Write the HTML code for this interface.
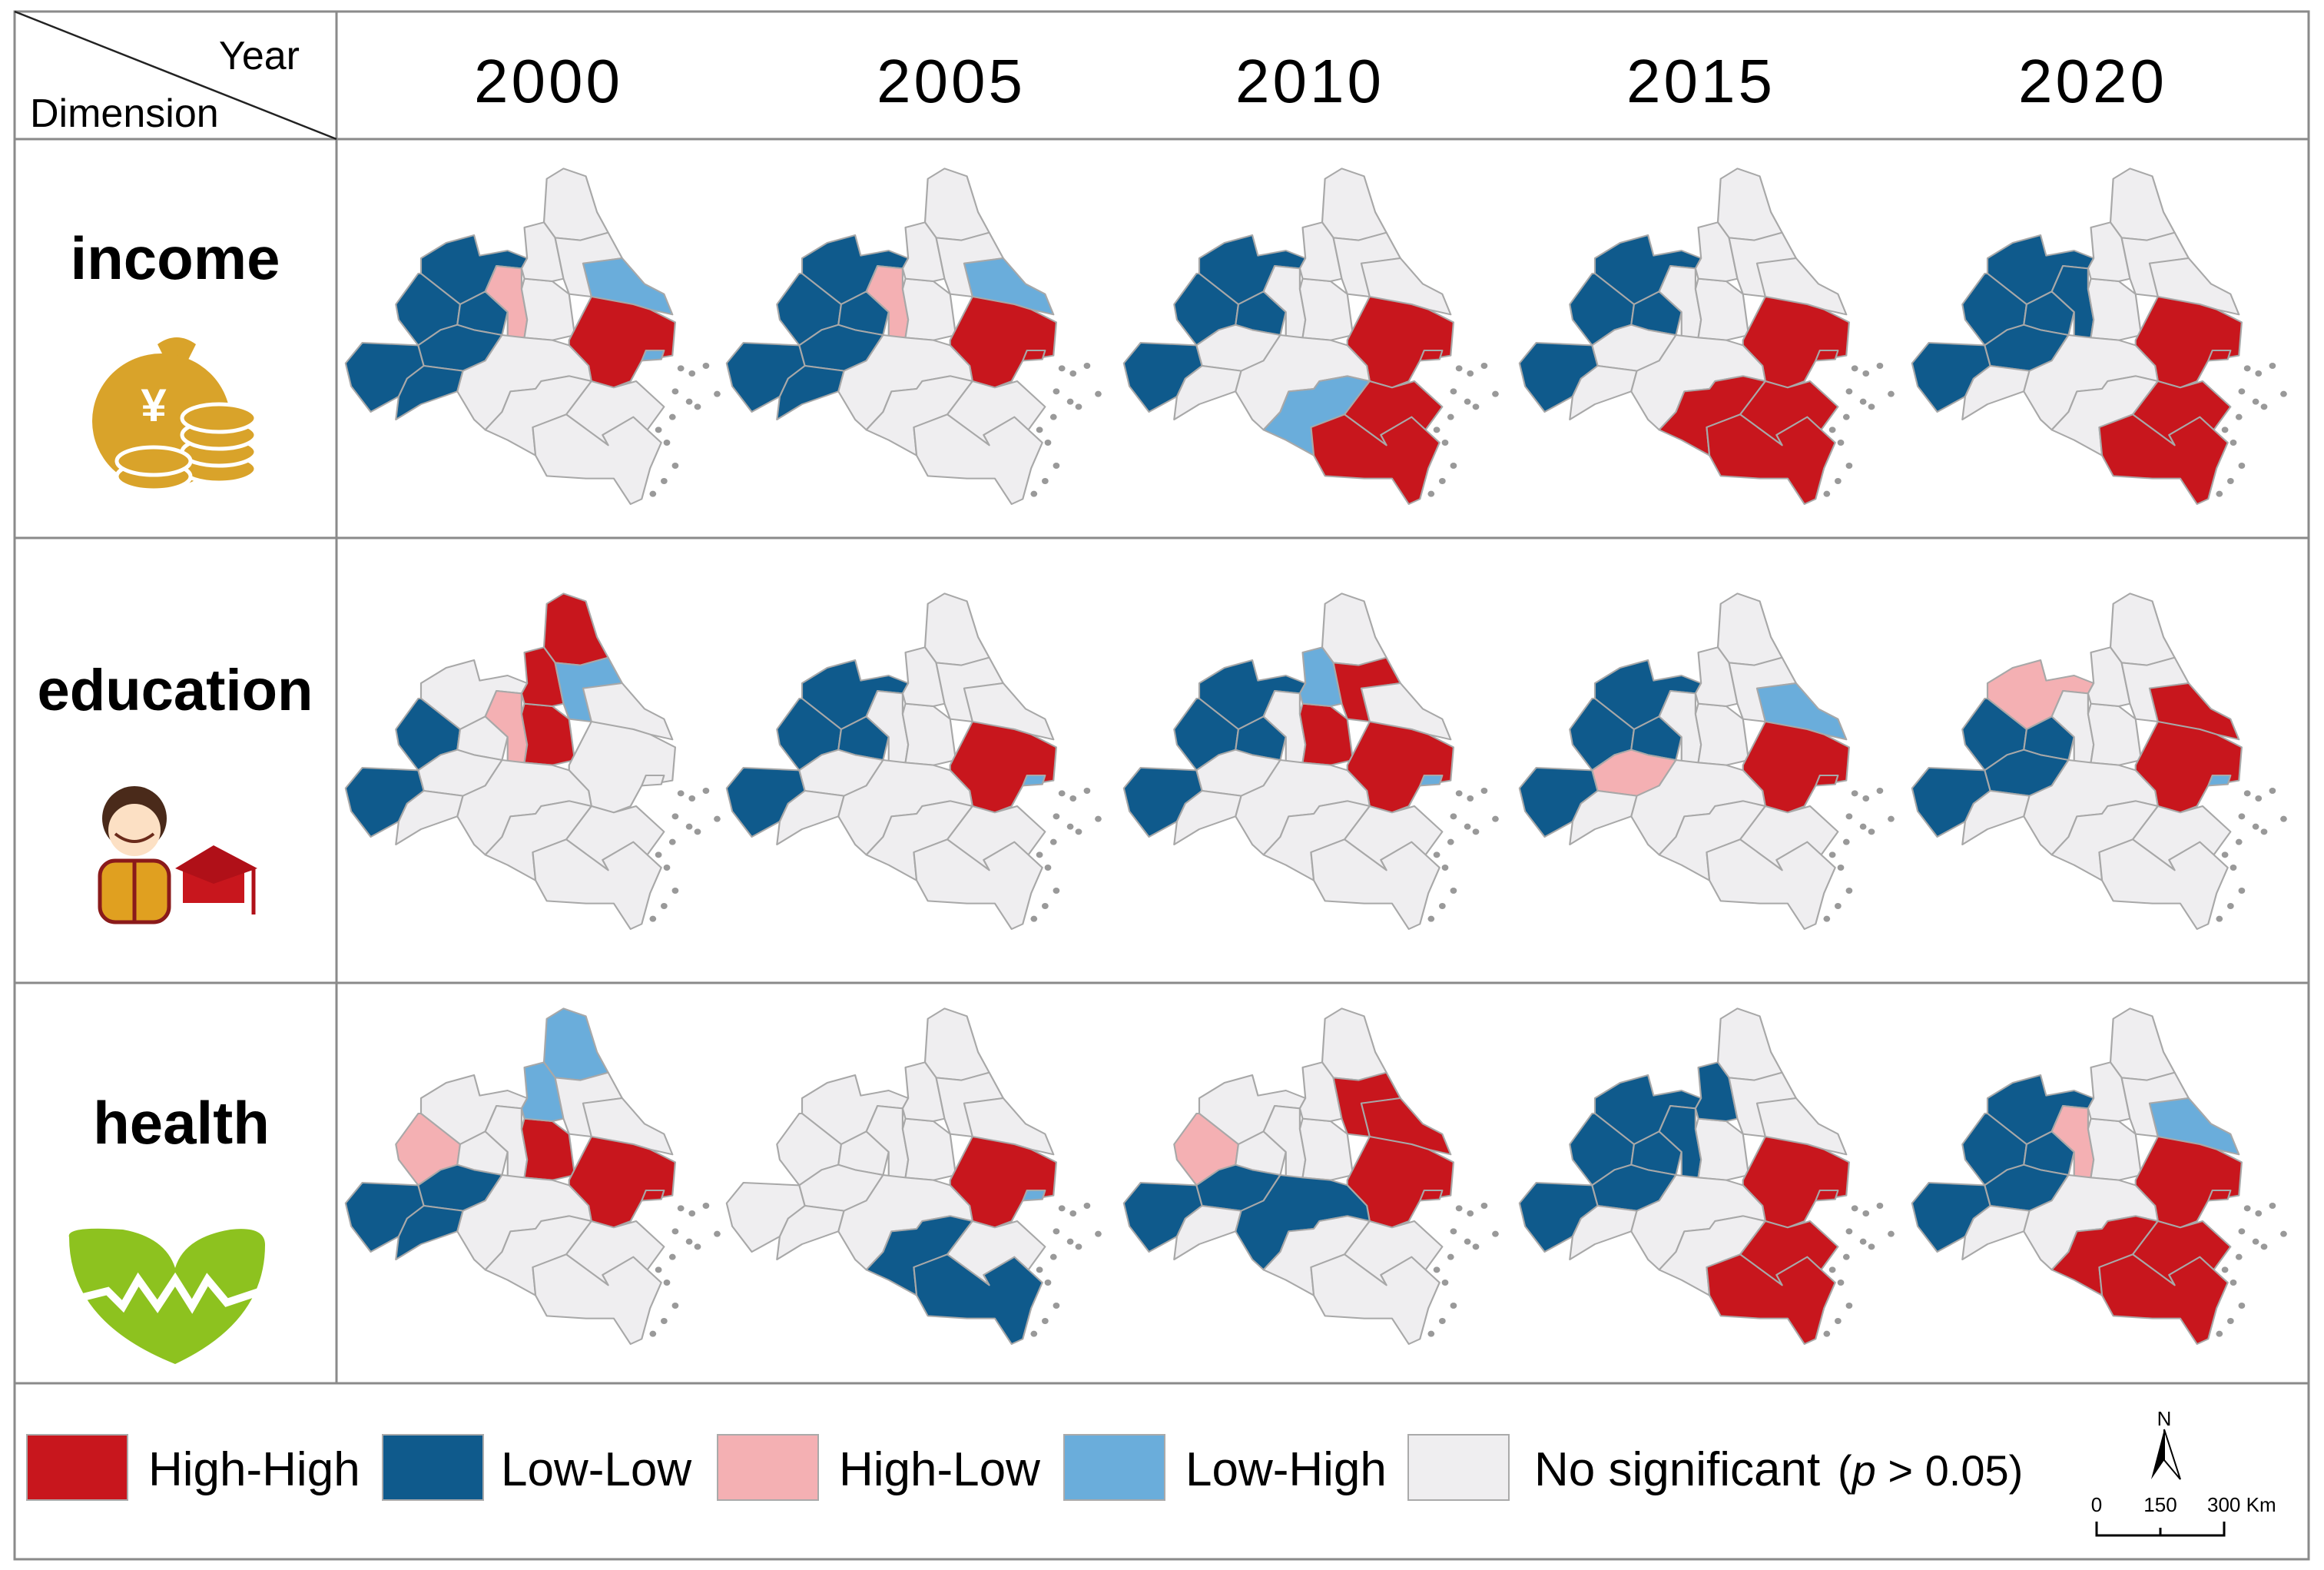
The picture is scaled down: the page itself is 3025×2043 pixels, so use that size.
<!DOCTYPE html>
<html><head><meta charset="utf-8">
<style>
html,body{margin:0;padding:0;background:#fff;}
svg{display:block;}
text{font-family:"Liberation Sans",Arial,sans-serif;}
</style></head>
<body>
<svg id="fig" width="3025" height="2043" viewBox="0 0 3025 2043" xmlns="http://www.w3.org/2000/svg">
  <rect x="0" y="0" width="3025" height="2043" fill="#fff"/>
  <g stroke="#8a8a8a" stroke-width="3" fill="none">
    <rect x="19" y="15" width="2986" height="2014"/>
    <line x1="19" y1="181" x2="3005" y2="181"/>
    <line x1="438" y1="15" x2="438" y2="1800"/>
    <line x1="19" y1="700" x2="3005" y2="700"/>
    <line x1="19" y1="1279" x2="3005" y2="1279"/>
    <line x1="19" y1="1800" x2="3005" y2="1800"/>
    <line x1="19" y1="15" x2="438" y2="181" stroke="#222" stroke-width="2.5"/>
  </g>
  <text x="390" y="90" font-size="52" text-anchor="end">Year</text>
  <text x="39" y="165" font-size="52">Dimension</text>
  <g id="years" font-size="80" text-anchor="middle" letter-spacing="4"></g>
  <text x="228" y="363" font-size="78" font-weight="bold" text-anchor="middle">income</text>
  <text x="228" y="924" font-size="76" font-weight="bold" text-anchor="middle">education</text>
  <text x="236" y="1488" font-size="78" font-weight="bold" text-anchor="middle">health</text>

  <g>
    <path d="M205,448 Q230,430 255,448 L240,478 L220,478 Z" fill="#d9a32a"/>
    <ellipse cx="210" cy="548" rx="90" ry="88" fill="#d9a32a"/>
    <text x="200" y="548" font-size="60" fill="#fff" font-weight="bold" text-anchor="middle">¥</text>
    <g fill="#d9a32a" stroke="#fff" stroke-width="5">
      <ellipse cx="285" cy="610" rx="48" ry="18"/><ellipse cx="285" cy="588" rx="48" ry="18"/><ellipse cx="285" cy="566" rx="48" ry="18"/><ellipse cx="285" cy="544" rx="48" ry="18"/>
      <ellipse cx="200" cy="620" rx="48" ry="18"/><ellipse cx="200" cy="600" rx="48" ry="18"/>
    </g>
  </g>
  <g>
    <circle cx="175" cy="1065" r="42" fill="#4a2a1a"/>
    <circle cx="175" cy="1080" r="34" fill="#fce0c4"/>
    <path d="M150,1085 Q175,1105 200,1085" stroke="#6a2a1a" stroke-width="4" fill="none"/>
    <rect x="130" y="1120" width="90" height="80" rx="20" fill="#e0a020" stroke="#8a1a1a" stroke-width="5"/>
    <line x1="175" y1="1120" x2="175" y2="1200" stroke="#8a1a1a" stroke-width="5"/>
    <rect x="238" y="1130" width="80" height="45" fill="#c8161d"/>
    <path d="M228,1130 L278,1100 L335,1130 L278,1150 Z" fill="#b01018"/>
    <line x1="330" y1="1130" x2="330" y2="1190" stroke="#b01018" stroke-width="5"/>
  </g>
  <g>
    <path d="M90,1610 Q85,1595 160,1600 Q215,1610 228,1650 Q240,1610 300,1600 Q345,1595 345,1620 Q345,1720 228,1775 Q90,1720 90,1610 Z" fill="#8dc21f"/>
    <polyline points="100,1690 140,1680 160,1700 180,1665 205,1700 228,1665 250,1700 270,1665 295,1695 340,1680" stroke="#fff" stroke-width="10" fill="none"/>
  </g>

  <g id="maps"></g>

  <g id="legend" font-size="62"></g>
  <g>
    <text x="2817" y="1855" font-size="26" text-anchor="middle">N</text>
    <path d="M2817,1860 L2800,1925 L2817,1900 Z" fill="#000"/>
    <path d="M2817,1860 L2838,1925 L2817,1900 Z" fill="#fff" stroke="#000" stroke-width="2"/>
  </g>
  <g font-size="26">
    <text x="2729" y="1967" text-anchor="middle">0</text>
    <text x="2812" y="1967" text-anchor="middle">150</text>
    <text x="2873" y="1967">300 Km</text>
    <polyline points="2729,1980 2729,1998 2895,1998 2895,1980" fill="none" stroke="#000" stroke-width="3"/>
    <line x1="2812" y1="1988" x2="2812" y2="1998" stroke="#000" stroke-width="3"/>
  </g>
</svg>
<script>
const years = ['2000','2005','2010','2015','2020'];
const dims = ['income','education','health'];
const regionIds = ['A1','A2','A3','A4','A5','A6','B','C','D1','D2','D3','E','F','G','H','I','J','K'];
const income2000 = ['LL','LL','LL','LL','LL','LL','HL','N','N','N','N','LH','HH','N','N','N','N','LH'];
const income2005 = ['LL','LL','LL','LL','LL','LL','HL','N','N','N','N','LH','HH','N','N','N','N','HH'];
const income2010 = ['LL','LL','LL','LL','N','N','N','N','N','N','N','N','HH','N','LH','HH','HH','HH'];
const income2015 = ['LL','LL','LL','LL','N','N','N','N','N','N','N','N','HH','N','HH','HH','HH','HH'];
const income2020 = ['LL','LL','LL','LL','LL','N','LL','N','N','N','N','N','HH','N','N','HH','HH','HH'];
const education2000 = ['N','LL','N','LL','N','N','HL','HH','HH','HH','LH','N','N','N','N','N','N','N'];
const education2005 = ['LL','LL','LL','LL','N','N','N','N','N','N','N','N','HH','N','N','N','N','LH'];
const education2010 = ['LL','LL','LL','LL','N','N','N','HH','N','LH','HH','N','HH','N','N','N','N','LH'];
const education2015 = ['LL','LL','LL','LL','HL','N','N','N','N','N','N','LH','HH','N','N','N','N','HH'];
const education2020 = ['HL','LL','LL','LL','LL','N','N','N','N','N','N','HH','HH','N','N','N','N','LH'];
const health2000 = ['N','HL','N','LL','LL','LL','N','HH','LH','LH','N','N','HH','N','N','N','N','HH'];
const health2005 = ['N','N','N','N','N','N','N','N','N','N','N','N','HH','N','LL','N','LL','LH'];
const health2010 = ['N','HL','N','LL','LL','N','N','N','N','N','HH','HH','HH','LL','N','N','N','HH'];
const health2015 = ['LL','LL','LL','LL','LL','N','LL','N','N','LL','N','N','HH','N','N','HH','HH','HH'];
const health2020 = ['LL','LL','LL','LL','LL','N','HL','N','N','N','N','LH','HH','N','HH','HH','HH','HH'];
const panels = [
  [income2000,income2005,income2010,income2015,income2020],
  [education2000,education2005,education2010,education2015,education2020],
  [health2000,health2005,health2010,health2015,health2020]
];
const colors = {HH:'#c8161d',LL:'#0f5a8c',HL:'#f4b0b3',LH:'#6aaddb',N:'#efeef0'};

const shapes = {
 A1:[[330,480],[420,420],[520,390],[540,470],[640,450],[710,480],[690,520],[600,510],[560,610],[470,660],[400,600],[330,540]],
 A2:[[240,660],[320,540],[330,540],[400,600],[470,660],[460,740],[400,760],[320,820],[250,720]],
 A3:[[470,660],[560,610],[640,690],[620,780],[520,760],[460,740]],
 A4:[[60,890],[120,810],[320,820],[340,900],[280,950],[250,1020],[150,1080],[80,980]],
 A5:[[320,820],[400,760],[460,740],[520,760],[620,780],[560,880],[480,920],[340,900]],
 A6:[[250,1020],[280,950],[340,900],[480,920],[460,1000],[330,1050],[240,1110]],
 B:[[560,610],[600,510],[690,520],[690,600],[710,720],[700,790],[640,790],[640,690]],
 C:[[690,600],[700,560],[800,570],[860,620],[880,780],[800,800],[700,790],[710,720]],
 D1:[[770,340],[780,170],[840,130],[920,160],[960,300],[1000,380],[900,410],[810,400]],
 D2:[[700,360],[770,340],[810,400],[840,560],[800,570],[700,560],[690,520],[710,480]],
 D3:[[810,400],[900,410],[1000,380],[1050,480],[920,500],[940,630],[860,620],[840,560]],
 E:[[910,500],[1050,480],[1130,580],[1200,620],[1230,700],[1150,680],[1090,660],[960,640],[940,630]],
 F:[[860,800],[940,630],[1090,660],[1150,680],[1240,730],[1230,860],[1120,880],[1080,960],[1020,985],[940,960],[930,900],[860,820]],
 G:[[480,920],[560,880],[620,780],[700,790],[800,800],[860,820],[930,900],[940,960],[860,940],[760,960],[740,990],[650,1000],[620,1080],[560,1150],[520,1110],[460,1000]],
 H:[[560,1150],[620,1080],[650,1000],[740,990],[760,960],[860,940],[940,960],[850,1090],[730,1140],[740,1250],[640,1190]],
 I:[[940,960],[1020,985],[1100,960],[1200,1060],[1140,1150],[1090,1100],[980,1170],[1000,1210],[850,1090]],
 J:[[740,1250],[730,1140],[850,1090],[1000,1210],[980,1170],[1090,1100],[1140,1150],[1190,1200],[1150,1300],[1120,1420],[1080,1440],[1020,1340],[920,1340],[780,1330]],
 K:[[1120,880],[1135,840],[1200,840],[1190,875]]
};
const colX = [428,924,1441,1956,2467];
const rowY = [176,729,1269];
const yearX = [714,1238,1705,2214,2724];
const NS='http://www.w3.org/2000/svg';

const yg=document.getElementById('years');
years.forEach((y,i)=>{
  const t=document.createElementNS(NS,'text');
  t.setAttribute('x',yearX[i]);t.setAttribute('y',133);t.textContent=y;
  
  
  yg.appendChild(t);
});

const mg=document.getElementById('maps');
dims.forEach((d,r)=>{
  years.forEach((y,c)=>{
    const g=document.createElementNS(NS,'g');
    g.setAttribute('transform','translate('+colX[c]+','+rowY[r]+') scale('+(1/2.75)+','+(1/3)+')');
    
    
    const vals=panels[r][c];
    regionIds.forEach((id,k)=>{
      const p=document.createElementNS(NS,'polygon');
      p.setAttribute('points',shapes[id].map(q=>q[0]+','+q[1]).join(' '));
      p.setAttribute('fill',colors[vals[k]]);
      p.setAttribute('stroke','#a8a8a8');
      p.setAttribute('stroke-width','6');
      p.setAttribute('stroke-linejoin','round');
      
      
      g.appendChild(p);
    });
    [[1260,910],[1300,930],[1350,900],[1390,1010],[1240,1000],[1290,1040],[1320,1060],[1230,1100],[1180,1150],[1210,1200],[1240,1290],[1200,1350],[1160,1400]].forEach(q=>{
      const e=document.createElementNS(NS,'circle');
      e.setAttribute('cx',q[0]);e.setAttribute('cy',q[1]);e.setAttribute('r',12);
      e.setAttribute('fill','#999');
      
      
      g.appendChild(e);
    });
    mg.appendChild(g);
  });
});

const legendItems=['High-High','Low-Low','High-Low','Low-High','No significant'];
const legendKeys=['HH','LL','HL','LH','N'];
const legendBoxX=[35,498,934,1385,1833];
const legendTextX=[193,652,1092,1543,1997];
const lg=document.getElementById('legend');
legendItems.forEach((name,i)=>{
  const r=document.createElementNS(NS,'rect');
  r.setAttribute('x',legendBoxX[i]);r.setAttribute('y',1867);r.setAttribute('width',131);r.setAttribute('height',85);
  r.setAttribute('fill',colors[legendKeys[i]]);r.setAttribute('stroke','#aaa');r.setAttribute('stroke-width','2');
  
  
  lg.appendChild(r);
  const t=document.createElementNS(NS,'text');
  t.setAttribute('x',legendTextX[i]);t.setAttribute('y',1933);t.textContent=name;
  
  
  lg.appendChild(t);
});
const pt=document.createElementNS(NS,'text');
pt.setAttribute('x',2392);pt.setAttribute('y',1933);pt.setAttribute('font-size','56');
pt.innerHTML='(<tspan font-style="italic">p</tspan> &gt; 0.05)';


lg.appendChild(pt);
</script>
</body></html>
